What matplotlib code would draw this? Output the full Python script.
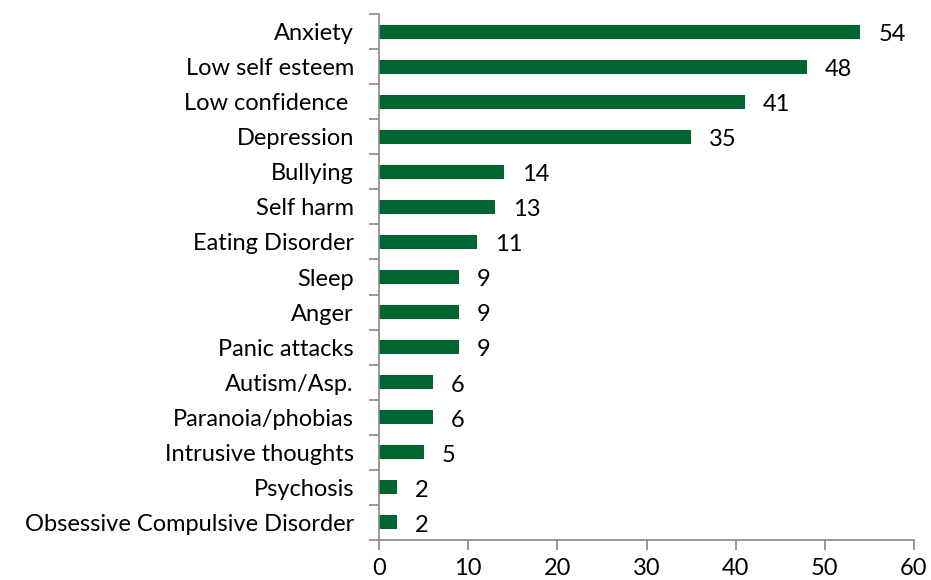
import matplotlib
matplotlib.use("Agg")
import matplotlib.pyplot as plt
import numpy as np

categories = ["Anxiety", "Low self esteem", "Low confidence ", "Depression", "Bullying",
              "Self harm", "Eating Disorder", "Sleep", "Anger", "Panic attacks",
              "Autism/Asp.", "Paranoia/phobias", "Intrusive thoughts", "Psychosis",
              "Obsessive Compulsive Disorder"]
values = [54, 48, 41, 35, 14, 13, 11, 9, 9, 9, 6, 6, 5, 2, 2]
xticks = [0, 10, 20, 30, 40, 50, 60]

plt.rcParams['font.family'] = ['Lato', 'DejaVu Sans']
fig = plt.figure(figsize=(9.31, 5.80), dpi=100)
ax = fig.add_axes([379/931, 1-540/580, (914-379)/931, (540-14)/580])

FS = 17
n = len(categories)
y = np.arange(n)[::-1]
ax.barh(y, values, height=0.4, color="#00652f")
for yi, v in zip(y, values):
    ax.text(v + 2.0, yi - 0.08, str(v), va="center", ha="left", fontsize=FS, color="black")

ax.set_xlim(0, 60)
ax.set_ylim(-0.5, n - 0.5)
ax.set_xticks(xticks)
ax.set_xticklabels([str(t) for t in xticks], fontsize=FS)
ax.set_yticks(y)
ax.set_yticklabels(categories, fontsize=FS)
ax.set_yticks(np.arange(-0.5, n, 1.0), minor=True)
ax.tick_params(axis="y", which="major", length=0, pad=18)
ax.tick_params(axis="y", which="minor", length=7, color="#888888", width=1.2)
ax.tick_params(axis="x", which="major", length=7, color="#888888", width=1.2, pad=6)
for s in ["top", "right"]:
    ax.spines[s].set_visible(False)
for s in ["left", "bottom"]:
    ax.spines[s].set_color("#888888")
    ax.spines[s].set_linewidth(1.2)

fig.savefig("out.png", dpi=100)
